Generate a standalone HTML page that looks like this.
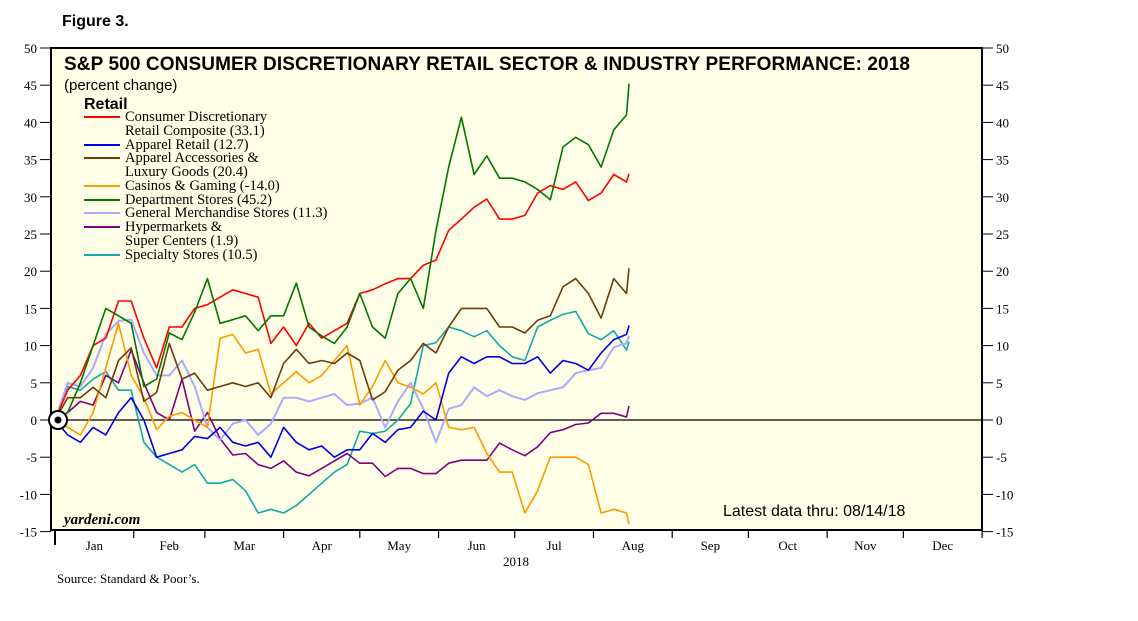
<!DOCTYPE html>
<html><head><meta charset="utf-8"><style>
body{margin:0;background:#fff;}
svg{display:block;}
text{font-family:"Liberation Serif",serif;}
.sans{font-family:"Liberation Sans",sans-serif;}
</style></head><body>
<svg id="chart" width="1138" height="621" viewBox="0 0 1138 621">
<text x="62" y="26" class="sans" font-size="16" font-weight="bold">Figure 3.</text>
<rect x="51" y="48" width="931" height="482" fill="#fffee6" stroke="#000" stroke-width="2"/>
<g id="axes"></g>
<g id="series"></g>
<text x="64" y="70" class="sans" font-size="19" font-weight="bold" textLength="846">S&amp;P 500 CONSUMER DISCRETIONARY RETAIL SECTOR &amp; INDUSTRY PERFORMANCE: 2018</text>
<text x="64" y="90" class="sans" font-size="15">(percent change)</text>
<text x="84" y="109" class="sans" font-size="16" font-weight="bold">Retail</text>
<g id="legend"></g>
<text x="64" y="524" font-size="15" font-style="italic" font-weight="bold">yardeni.com</text>
<text x="723" y="516" class="sans" font-size="16">Latest data thru: 08/14/18</text>
<text x="516" y="566" font-size="13" text-anchor="middle">2018</text>
<text x="57" y="583" font-size="13">Source: Standard &amp; Poor’s.</text>
<circle cx="58" cy="420" r="9" fill="#fff" stroke="#000" stroke-width="2"/>
<circle cx="58" cy="420" r="3.5" fill="#000"/>
</svg>
<script>
const days=[0,5,10,15,20,25,30,35,40,45,50,55,60,65,70,75,80,85,90,95,100,105,110,115,120,125,130,135,140,145,150,155,160,165,170,175,180,185,190,195,200,205,210,215,220,225,226];
const composite=[0,4,6,10,11,16,16,11,7,12.5,12.5,15,15.5,16.5,17.5,17,16.5,10.3,12.5,10,13,11,12,13,17,17.5,18.3,19,19,20.8,21.5,25.5,27,28.6,29.7,27,27,27.5,30.5,31.5,31,32,29.5,30.5,33,32,33.1];
const apparelRetail=[0,-2,-3,-1,-2,1,3,0,-5,-4.5,-4,-2.2,-2.5,-1,-3,-3.5,-3,-5,-1,-3,-4,-3.5,-5,-4,-4,-1.8,-3,-1.3,-1,1.2,0,6.3,8.5,7.6,8.5,8.5,7.6,7.6,8.5,6.3,8,7.6,6.7,9,10.8,11.5,12.7];
const apparelAcc=[0,3,3,4.4,3,8,9.7,2.5,3.7,10.3,5.5,6.3,4,4.5,5,4.5,5,3,7.6,9.5,7.6,8,7.6,9,8,2.7,3.8,6.7,8,10.3,9,12.5,15,15,15,12.5,12.5,11.7,13.4,14,17.9,19,17,13.7,19,17,20.4];
const casinos=[0,-1,-2,1,7,13,6,3,-1.3,0.5,1,0,-1,11,11.5,9,9.5,3.5,5,6.5,5,6,8,10,2,4.5,8,5,4.4,3.5,5,-1,-1.3,-1,-4.5,-7,-7,-12.5,-9.5,-5,-5,-5,-6,-12.5,-12,-12.5,-14];
const deptStores=[0,1,5,10,15,14,13,4.5,5.5,11.7,10.8,14.5,19,13,13.5,14,12,14,14,18.4,12.5,11.3,10.3,12.5,17,12.5,11,17,19,15,25.5,34,40.7,33,35.5,32.5,32.5,32,31,29.6,36.7,38,37,34,39,41,45.2];
const genMerch=[0,5,4.5,7,11.5,13.3,13.5,9,6,6,8,4.5,-1,-2.7,-0.5,0,-2,-0.5,3,3,2.5,3,3.5,2,2.2,3,-1,2.5,5,1.5,-3,1.5,2,4.4,3.2,4,3.2,2.7,3.6,4,4.4,6.3,6.7,7,9.8,10.3,11.3];
const hypermarkets=[0,1,2.5,2,6,5,9.4,5,1,0,5.5,-1.5,1,-2.5,-4.7,-4.5,-6,-6.5,-5.5,-7,-7.5,-6.5,-5.5,-4.5,-5.8,-5.8,-7.6,-6.5,-6.5,-7.2,-7.2,-5.8,-5.4,-5.4,-5.4,-3.1,-4,-4.8,-3.6,-1.7,-1.3,-0.6,-0.4,0.9,0.9,0.4,1.9];
const specialty=[0,4.5,4,5.5,6.5,4,4,-3,-5,-6,-7,-6,-8.5,-8.5,-8,-9.5,-12.5,-12,-12.5,-11.5,-10,-8.5,-7,-6,-1.5,-1.8,-1.5,0,2.2,10,10.4,12.5,12,11.2,12,10,8.5,8,12.5,13.4,14.2,14.6,11.6,10.8,12,9.4,10.5];
const yTicks=[50,45,40,35,30,25,20,15,10,5,0,-5,-10,-15];
const months=["Jan","Feb","Mar","Apr","May","Jun","Jul","Aug","Sep","Oct","Nov","Dec"];
const monthStarts=[0,31,59,90,120,151,181,212,243,273,304,334,365];
const seriesList=[
 {name:"specialty-stores",data:specialty,color:"#10aaaa",w:1.6},
 {name:"hypermarkets",data:hypermarkets,color:"#800080",w:1.6},
 {name:"general-merchandise",data:genMerch,color:"#aaaaff",w:2},
 {name:"casinos-gaming",data:casinos,color:"#ff9900",w:1.6},
 {name:"apparel-accessories",data:apparelAcc,color:"#6b3d0a",w:1.6},
 {name:"apparel-retail",data:apparelRetail,color:"#0000ee",w:1.6},
 {name:"retail-composite",data:composite,color:"#ff0000",w:1.6},
 {name:"department-stores",data:deptStores,color:"#007700",w:1.6}
];
const NS="http://www.w3.org/2000/svg";
const X=d=>55+d*2.54;
const Y=v=>420-v*7.44;
function mk(tag,attrs,parent){const e=document.createElementNS(NS,tag);for(const k in attrs)e.setAttribute(k,attrs[k]);parent.appendChild(e);return e;}
const ax=document.getElementById('axes');
yTicks.forEach(v=>{
 const y=Y(v);
 const t1=mk('line',{x1:40,x2:51,y1:y,y2:y,stroke:'#000','stroke-width':1},ax);
 
 
 const t2=mk('line',{x1:982,x2:993,y1:y,y2:y,stroke:'#000','stroke-width':1},ax);
 
 
 const l=mk('text',{x:37,y:y+5,'font-size':13,'text-anchor':'end'},ax);l.textContent=v;
 
 
 const r=mk('text',{x:996,y:y+5,'font-size':13},ax);r.textContent=v;
 
 
});
const zl=mk('line',{x1:51,x2:982,y1:Y(0),y2:Y(0),stroke:'#000','stroke-width':1.2},ax);


monthStarts.forEach((d,i)=>{
 const tk=mk('line',{x1:X(d),x2:X(d),y1:530,y2:i==0?545:538,stroke:'#000','stroke-width':i==0?2:1.2},ax);
 
 
 if(i<12){
  const lb=mk('text',{x:X((d+monthStarts[i+1])/2),y:550,'font-size':13,'text-anchor':'middle'},ax);
  lb.textContent=months[i];
  
  
 }
});
const sg=document.getElementById('series');
seriesList.forEach(s=>{
 const pts=s.data.map((v,i)=>X(days[i]).toFixed(1)+','+Y(v).toFixed(1)).join(' ');
 const p=mk('polyline',{points:pts,fill:'none',stroke:s.color,'stroke-width':s.w,'stroke-linejoin':'round'},sg);
 
 
});
const legendItems=[
 {lines:["Consumer Discretionary","Retail Composite (33.1)"],color:"#ff0000",y:121},
 {lines:["Apparel Retail (12.7)"],color:"#0000ee",y:149},
 {lines:["Apparel Accessories &","Luxury Goods (20.4)"],color:"#6b3d0a",y:162},
 {lines:["Casinos & Gaming (-14.0)"],color:"#ff9900",y:190},
 {lines:["Department Stores (45.2)"],color:"#007700",y:204},
 {lines:["General Merchandise Stores (11.3)"],color:"#aaaaff",y:217},
 {lines:["Hypermarkets &","Super Centers (1.9)"],color:"#800080",y:231},
 {lines:["Specialty Stores (10.5)"],color:"#10aaaa",y:259}
];
const lg=document.getElementById('legend');
legendItems.forEach(it=>{
 const ln=mk('line',{x1:84,x2:120,y1:it.y-4,y2:it.y-4,stroke:it.color,'stroke-width':2},lg);
 
 
 it.lines.forEach((t,j)=>{
  const tx=mk('text',{x:125,y:it.y+j*14,'font-size':14.5},lg);
  tx.textContent=t;
  
  
 });
});
</script>
</body></html>
